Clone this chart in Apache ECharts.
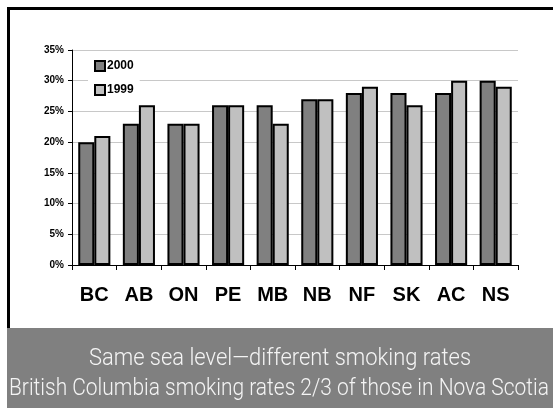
<!DOCTYPE html>
<html>
<head>
<meta charset="utf-8">
<script src="https://cdn.jsdelivr.net/npm/echarts@6/dist/echarts.min.js"></script>
<style>
  html, body { margin: 0; padding: 0; background: #fff; }
  #chart { width: 553px; height: 408px; }
</style>
</head>
<body>
<div id="chart"></div>
<script>
// Provinces and smoking rates (%) by year
const provinces = ['BC', 'AB', 'ON', 'PE', 'MB', 'NB', 'NF', 'SK', 'AC', 'NS'];
const rates2000 = [20, 23, 23, 26, 26, 27, 28, 28, 28, 30];
const rates1999 = [21, 26, 23, 26, 23, 27, 29, 26, 30, 29];
const captionLines = [
  'Same sea level\u2014different smoking rates',
  'British Columbia smoking rates 2/3 of those in Nova Scotia'
];

const W = 553, H = 408;
const captionFont = '300 23px Roboto';

// squeeze a caption line horizontally so it fits the given width
function fitScale(text, maxWidth) {
  const ctx = document.createElement('canvas').getContext('2d');
  ctx.font = captionFont;
  const w = ctx.measureText(text).width;
  return Math.min(1, maxWidth / w);
}

const chart = echarts.init(document.getElementById('chart'), null, { renderer: 'canvas' });

const option = {
  backgroundColor: '#fff',
  animation: false,
  grid: { left: 72, right: 35, top: 50, bottom: 143 },
  legend: {
    orient: 'vertical',
    left: 88,
    top: 55,
    padding: [5, 6],
    itemGap: 12,
    itemWidth: 10,
    itemHeight: 10,
    icon: 'rect',
    backgroundColor: '#fff',
    textStyle: { fontFamily: 'Liberation Sans, Arial', fontWeight: 'bold', fontSize: 12, color: '#000', padding: [0, 0, 0, -3] },
    data: ['2000', '1999']
  },
  xAxis: {
    type: 'category',
    data: provinces,
    axisLine: { lineStyle: { color: '#000', width: 1 } },
    axisTick: { show: true, alignWithLabel: false, length: 5, lineStyle: { color: '#000' } },
    axisLabel: { fontFamily: 'Liberation Sans, Arial', fontWeight: 'bold', fontSize: 20, color: '#000', margin: 20 }
  },
  yAxis: {
    type: 'value',
    min: 0,
    max: 35,
    interval: 5,
    axisLine: { show: true, lineStyle: { color: '#000', width: 1 } },
    axisTick: { show: true, length: 4, lineStyle: { color: '#000' } },
    axisLabel: { formatter: '{value}%', fontFamily: 'Liberation Sans, Arial', fontWeight: 'bold', fontSize: 10, color: '#000', margin: 8 },
    splitLine: { lineStyle: { color: '#c8c8c8', width: 1 } }
  },
  series: [
    {
      name: '2000', type: 'bar', data: rates2000,
      barGap: '0%', barCategoryGap: '28%',
      itemStyle: { color: '#808080', borderColor: '#000', borderWidth: 2 }
    },
    {
      name: '1999', type: 'bar', data: rates1999,
      barGap: '0%', barCategoryGap: '28%',
      itemStyle: { color: '#c0c0c0', borderColor: '#000', borderWidth: 2 }
    }
  ],
  graphic: [
    // frame lines along top and left
    { type: 'rect', shape: { x: 7, y: 7, width: W - 7, height: 3 }, style: { fill: '#000' }, z: 10 },
    { type: 'rect', shape: { x: 7, y: 7, width: 3, height: 321 }, style: { fill: '#000' }, z: 10 },
    // caption band
    { type: 'rect', shape: { x: 7, y: 328, width: W - 7, height: H - 328 }, style: { fill: '#808080' }, z: 10 },
    {
      type: 'text', z: 11,
      x: 280, y: 359,
      scaleX: fitScale(captionLines[0], 382),
      style: { text: captionLines[0], font: captionFont, fill: '#f4f4f4', align: 'center', verticalAlign: 'middle' }
    },
    {
      type: 'text', z: 11,
      x: 279, y: 389,
      scaleX: fitScale(captionLines[1], 540),
      style: { text: captionLines[1], font: captionFont, fill: '#f4f4f4', align: 'center', verticalAlign: 'middle' }
    }
  ]
};

chart.setOption(option);
</script>
</body>
</html>
